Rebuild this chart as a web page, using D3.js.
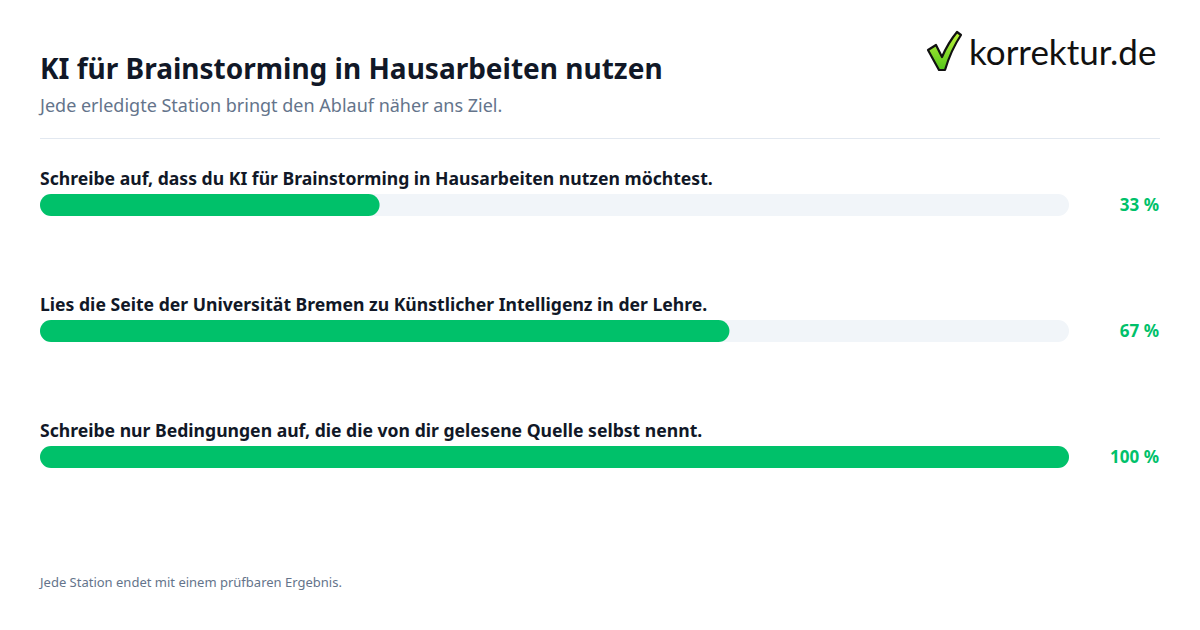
<!DOCTYPE html>
<html><head><meta charset="utf-8">
<script src="https://cdn.jsdelivr.net/npm/d3@7"></script>
<style>body{margin:0;background:#fff}svg{display:block;font-family:"Noto Sans",sans-serif}</style>
</head><body>
<svg id="c" width="1200" height="630"></svg>
<script>
const title = "KI für Brainstorming in Hausarbeiten nutzen";
const subtitle = "Jede erledigte Station bringt den Ablauf näher ans Ziel.";
const footer = "Jede Station endet mit einem prüfbaren Ergebnis.";
const categories = [
  "Schreibe auf, dass du KI für Brainstorming in Hausarbeiten nutzen möchtest.",
  "Lies die Seite der Universität Bremen zu Künstlicher Intelligenz in der Lehre.",
  "Schreibe nur Bedingungen auf, die die von dir gelesene Quelle selbst nennt."
];
const values = [33, 67, 100];
const valueLabels = ["33 %", "67 %", "100 %"];

const svg = d3.select("#c");
svg.append("rect").attr("width",1200).attr("height",630).attr("fill","#fff");

svg.append("text").attr("x",40).attr("y",79).attr("font-size",28).attr("font-weight",700)
  .attr("fill","#111827").text(title);
svg.append("text").attr("x",40).attr("y",112).attr("font-size",18).attr("fill","#64748b").text(subtitle);
svg.append("line").attr("x1",40).attr("x2",1160).attr("y1",138.5).attr("y2",138.5)
  .attr("stroke","#e2e8f0").attr("stroke-width",1);

// logo
const defs = svg.append("defs");
const gr = defs.append("linearGradient").attr("id","lg").attr("x1","0").attr("y1","0").attr("x2","0").attr("y2","1");
gr.append("stop").attr("offset","0").attr("stop-color","#c2f53c");
gr.append("stop").attr("offset","1").attr("stop-color","#52c41a");
const logo = svg.append("g");
logo.append("path")
  .attr("d","M928,50 L936,45 L942,57 Q948,43 957,32 L961,35 Q951,50 945,70 L939,70 Z")
  .attr("fill","url(#lg)").attr("stroke","#111").attr("stroke-width",2.2).attr("stroke-linejoin","round");
logo.append("text").attr("x",969).attr("y",65).attr("font-size",35).attr("fill","#111")
  .attr("font-family","Lato, 'Noto Sans', sans-serif").text("korrektur.de");

const x = d3.scaleLinear().domain([0,100]).range([40,1069]);
const y = d3.scaleBand().domain(d3.range(categories.length)).range([194, 194+126*3]).paddingInner(0).paddingOuter(0);
const barH = 22;

const rows = svg.selectAll("g.row").data(categories).join("g").attr("class","row")
  .attr("transform",(d,i)=>`translate(0,${y(i)})`);
rows.append("text").attr("x",40).attr("y",-9).attr("font-size",17.6).attr("font-weight",700)
  .attr("fill","#111827").text(d=>d);
rows.append("rect").attr("x",x(0)).attr("y",0).attr("width",x(100)-x(0)).attr("height",barH)
  .attr("rx",barH/2).attr("fill","#f1f5f9");
rows.append("rect").attr("x",x(0)).attr("y",0).attr("width",(d,i)=>x(values[i])-x(0)).attr("height",barH)
  .attr("rx",barH/2).attr("fill","#00c16a");
rows.append("text").attr("x",1159).attr("y",barH/2).attr("dy","0.35em").attr("text-anchor","end")
  .attr("font-size",17).attr("font-weight",700).attr("fill","#00c16a").text((d,i)=>valueLabels[i]);

svg.append("text").attr("x",40).attr("y",587).attr("font-size",13).attr("fill","#64748b").text(footer);
</script>
</body></html>
